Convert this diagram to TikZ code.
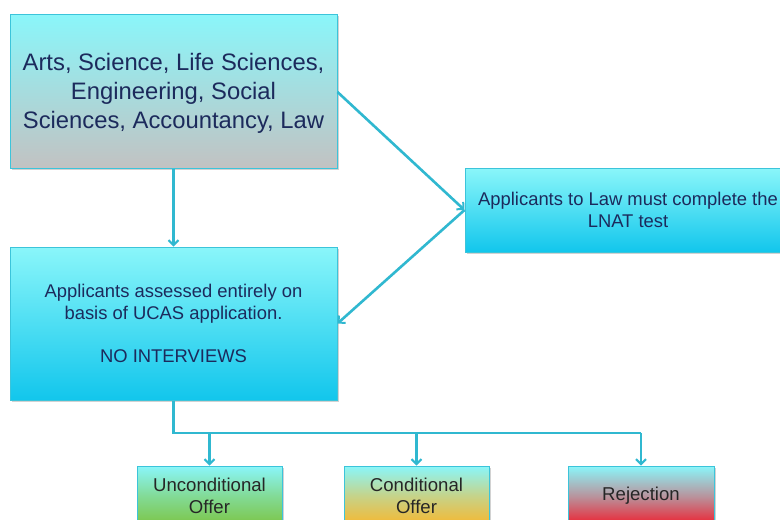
\documentclass[tikz,border=0pt]{standalone}
\usepackage{fontspec}
\setmainfont{Liberation Sans}
\usetikzlibrary{arrows.meta,shadows}
\definecolor{linec}{HTML}{30B8D0}
\definecolor{bordc}{HTML}{3CC4DA}
\definecolor{navy}{HTML}{1C2A5C}
\definecolor{topc}{HTML}{8AF6FA}
\definecolor{cyanbot}{HTML}{12C6EC}
\definecolor{grayc}{HTML}{C2C2C2}
\definecolor{greenc}{HTML}{7CC444}
\definecolor{orangec}{HTML}{F8B62C}
\definecolor{redc}{HTML}{F01C2C}
\begin{document}
\begin{tikzpicture}[x=1pt,y=-1pt,
  box/.style={draw=bordc,line width=1pt,align=center,inner sep=0pt,
    drop shadow={shadow xshift=1.5pt,shadow yshift=-1.5pt,opacity=0.35}},
  bigtxt/.style={font=\fontsize{23.8}{28.5}\selectfont,text=navy},
  midtxt/.style={font=\fontsize{18.4}{21.5}\selectfont,text=navy},
  smalltxt/.style={font=\fontsize{18.6}{22}\selectfont,text=black!85},
  conn/.style={draw=linec,line width=2.6pt,-{Straight Barb[length=5pt,width=10pt,line width=2pt]}},
  plain/.style={draw=linec,line width=2.6pt}]
\clip (0,0) rectangle (780,520);
\fill[white] (0,0) rectangle (780,520);
\node[box,bigtxt,minimum width=327pt,minimum height=154pt,top color=topc,bottom color=grayc,middle color=topc!50!grayc]
  (subj) at (173.5,91) {\raisebox{-3pt}[\height][\depth]{\begin{tabular}{@{}c@{}}Arts, Science, Life Sciences,\\[0.5pt]Engineering, Social\\[0.5pt]Sciences, Accountancy, Law\end{tabular}}};
\node[box,midtxt,minimum width=326pt,minimum height=84pt,top color=topc,bottom color=cyanbot]
  (lnat) at (628,210) {Applicants to Law must complete the\\LNAT test};
\node[box,midtxt,minimum width=327pt,minimum height=153pt,top color=topc,bottom color=cyanbot]
  (ucas) at (173.5,323.5) {Applicants assessed entirely on\\basis of UCAS application.\\[22pt]NO INTERVIEWS};
\node[box,smalltxt,minimum width=145pt,minimum height=60pt,top color=topc,bottom color=greenc,middle color=greenc!55!topc]
  (uncond) at (209.5,496) {Unconditional\\Offer};
\node[box,smalltxt,minimum width=145pt,minimum height=60pt,top color=topc,bottom color=orangec,middle color=orangec!55!topc]
  (cond) at (416.5,496) {Conditional\\Offer};
\node[box,smalltxt,minimum width=146pt,minimum height=60pt,top color=topc,bottom color=redc,middle color=redc!45!topc]
  (rej) at (641,496) {Rejection};
\coordinate (br) at (173.5,433);
\coordinate (brend) at (641,433);
\draw[conn] (subj.south) -- (ucas.north);
\draw[conn] (subj.east) ++(0,1) coordinate (se) (se) -- (lnat.west);
\draw[conn] (lnat.west) -- (ucas.east);
\draw[plain] (ucas.south) -- (br) -- (brend);
\draw[conn] (uncond.north |- br) -- (uncond.north);
\draw[conn] (cond.north |- br) -- (cond.north);
\draw[conn] (brend) -- (rej.north);
\end{tikzpicture}
\end{document}
